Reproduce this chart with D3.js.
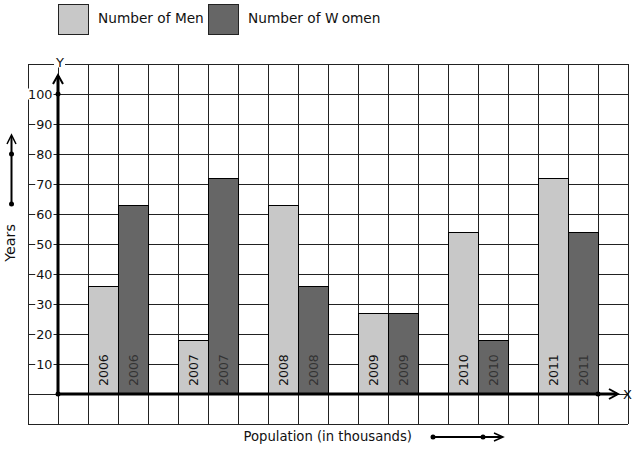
<!DOCTYPE html>
<html><head><meta charset="utf-8">
<script src="https://cdn.jsdelivr.net/npm/d3@7"></script>
<style>body{margin:0;background:#fff}svg{display:block;font-family:"DejaVu Sans",sans-serif}</style>
</head><body><svg id="c" width="636" height="450"></svg>
<script>
const years = ["2006","2007","2008","2009","2010","2011"];
const men = [36, 18, 63, 27, 54, 72];
const women = [63, 72, 36, 27, 18, 54];
const yTicks = [10,20,30,40,50,60,70,80,90,100];
const seriesNames = ["Number of Men","Number of Women"];
const colors = ["#c8c8c8","#666666"];

const svg = d3.select("#c");
const gx = d3.scaleLinear().domain([0,20]).range([28,628]);
const y = d3.scaleLinear().domain([0,100]).range([394,94]);
const xYear = d3.scaleBand().domain(years).range([88,628]);
const xSub = d3.scaleBand().domain(["men","women","gap"]).range([0, xYear.bandwidth()]);

// grid
const grid = svg.append("g").attr("stroke","#222").attr("stroke-width",1).attr("shape-rendering","crispEdges");
d3.range(0,21).forEach(i=>{
  grid.append("line").attr("x1",gx(i)).attr("x2",gx(i)).attr("y1",y(110)).attr("y2",y(-10));
});
d3.range(-10,111,10).forEach(v=>{
  grid.append("line").attr("x1",gx(0)).attr("x2",gx(20)).attr("y1",y(v)).attr("y2",y(v));
});

// bars
const data = years.map((yr,i)=>({yr, men:men[i], women:women[i]}));
const bars = svg.append("g");
data.forEach(d=>{
  [["men",0],["women",1]].forEach(([k,si])=>{
    const x0 = xYear(d.yr)+xSub(k);
    bars.append("rect").attr("x",x0).attr("y",y(d[k])).attr("width",xSub.bandwidth()).attr("height",y(0)-y(d[k]))
      .attr("fill",colors[si]).attr("stroke","#000").attr("stroke-width",1).attr("shape-rendering","crispEdges");
    const cx = x0 + xSub.bandwidth()/2 + 4.5;
    bars.append("text").attr("transform",`translate(${cx},${y(0)-8}) rotate(-90)`)
      .attr("font-size",12.5).attr("fill", si===0 ? "#111" : "#333").text(d.yr);
  });
});

// axes
const ax = svg.append("g").attr("stroke","#000").attr("fill","none");
ax.append("line").attr("x1",gx(1)).attr("x2",gx(1)).attr("y1",y(0)).attr("y2",76).attr("stroke-width",3);
ax.append("path").attr("d",`M${gx(1)-5},${84} L${gx(1)},${75} L${gx(1)+5},${84}`).attr("stroke-width",2);
ax.append("line").attr("x1",gx(1)).attr("x2",617).attr("y1",y(0)).attr("y2",y(0)).attr("stroke-width",3);
ax.append("path").attr("d",`M${609},${389} L${618},${394} L${609},${399}`).attr("stroke-width",2);
svg.append("circle").attr("cx",gx(1)).attr("cy",y(100)).attr("r",2.5);
svg.append("circle").attr("cx",gx(1)).attr("cy",y(0)).attr("r",2.5);
svg.append("circle").attr("cx",gx(19)).attr("cy",y(0)).attr("r",2.5);

// axis labels with white background
function bgText(x,yv,txt,anchor,size){
  const g = svg.append("g");
  const t = g.append("text").attr("x",x).attr("y",yv).attr("text-anchor",anchor).attr("dominant-baseline","central")
    .attr("font-size",size).attr("fill","#111").text(txt);
  const b = t.node().getBBox();
  g.insert("rect","text").attr("x",b.x-1).attr("y",b.y+2).attr("width",b.width+2).attr("height",b.height-4).attr("fill","#fff");
  return g;
}
yTicks.forEach(v=> bgText(52.5, y(v), String(v), "end", 12.8));
bgText(60, 62, "Y", "middle", 13);
svg.append("text").attr("x",623).attr("y",394).attr("dominant-baseline","central").attr("font-size",13).attr("fill","#111").text("X");

// legend
const leg = svg.append("g");
[[58,98],[208,248]].forEach(([bx,tx],i)=>{
  leg.append("rect").attr("x",bx).attr("y",4.5).attr("width",30).attr("height",30).attr("fill",colors[i]).attr("stroke","#222").attr("shape-rendering","crispEdges");
  const t = leg.append("text").attr("x",tx).attr("y",18).attr("dominant-baseline","central").attr("font-size",13.7).attr("fill","#111");
  const name = seriesNames[i];
  const wi = name.indexOf("W");
  if (wi >= 0) {
    t.append("tspan").text(name.slice(0, wi+1));
    t.append("tspan").attr("dx",4).text(name.slice(wi+1));
  } else t.text(name);
});

// Years label + arrow
svg.append("text").attr("transform","translate(14.5,243) rotate(-90)").attr("text-anchor","middle").attr("font-size",14.3).attr("fill","#111").text("Years");
svg.append("line").attr("x1",11.5).attr("x2",11.5).attr("y1",204).attr("y2",136).attr("stroke","#000").attr("stroke-width",2);
svg.append("path").attr("d","M7,144 L11.5,135 L16,144").attr("stroke","#000").attr("stroke-width",1.5).attr("fill","none");
svg.append("circle").attr("cx",11.5).attr("cy",204).attr("r",2.5);
svg.append("circle").attr("cx",11.5).attr("cy",154).attr("r",2.5);

// Population label + arrow
svg.append("text").attr("x",243.5).attr("y",436.5).attr("dominant-baseline","central").attr("font-size",13.2).attr("fill","#111").text("Population (in thousands)");
svg.append("line").attr("x1",433).attr("x2",502).attr("y1",437).attr("y2",437).attr("stroke","#000").attr("stroke-width",2);
svg.append("path").attr("d","M494,433 L503,437 L494,441").attr("stroke","#000").attr("stroke-width",1.5).attr("fill","none");
svg.append("circle").attr("cx",433).attr("cy",437).attr("r",2.5);
svg.append("circle").attr("cx",483).attr("cy",437).attr("r",2.5);
</script></body></html>
